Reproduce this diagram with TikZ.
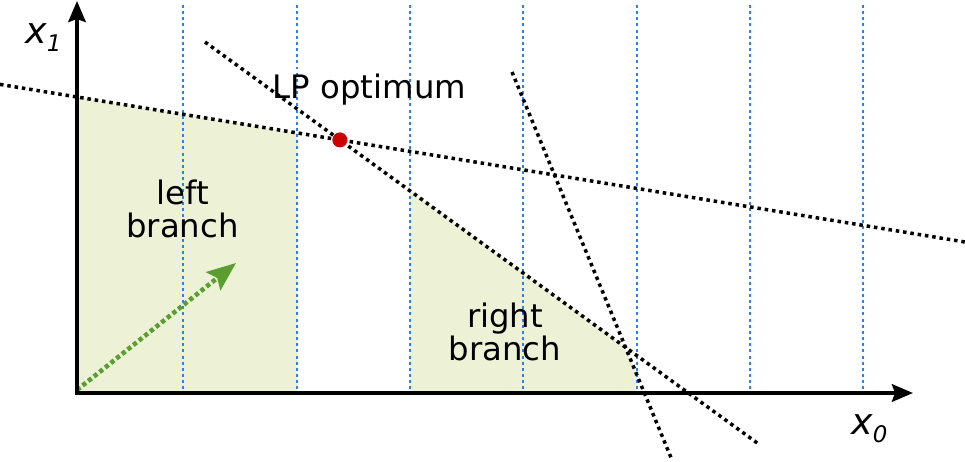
\documentclass[tikz,border=0pt]{standalone}
\usepackage{fontspec}
\setmainfont{DejaVu Sans}
\usepackage{xcolor}
\usetikzlibrary{arrows.meta,calc}

\definecolor{regionfill}{RGB}{237,242,215}
\definecolor{cutblue}{RGB}{42,127,255}
\definecolor{dirgreen}{RGB}{90,158,47}
\definecolor{optred}{RGB}{204,0,0}

\begin{document}
\begin{tikzpicture}[
    x=0.02cm, y=-0.02cm,
    axisline/.style={line width=2.1pt, {Stealth[length=0.42cm,width=0.35cm,inset=0.06cm]}-{Stealth[length=0.42cm,width=0.35cm,inset=0.06cm]}},
    cut/.style={draw=cutblue, line width=1.7pt, dash pattern=on 1.7pt off 1.8pt},
    constr/.style={draw=black, line width=2pt, dash pattern=on 2pt off 2.2pt},
    region/.style={fill=regionfill, draw=none},
    txt/.style={font=\fontsize{18.4}{18.8}\selectfont, align=center, inner sep=0pt},
    axlabel/.style={font=\fontsize{20.7}{24}\selectfont\itshape, inner sep=0pt, anchor=base west},
    dir/.style={draw=dirgreen, line width=2.6pt, dash pattern=on 2.4pt off 1.7pt, -{Stealth[length=0.58cm,width=0.46cm,inset=0.1cm]}}
]
    \useasboundingbox (0,0) rectangle (965,461);

    % axes corner and ends
    \coordinate (O) at (77,393);
    \coordinate (xend) at (913,393);
    \coordinate (yend) at (77,1);

    % constraint lines
    \coordinate (c1a) at (0,84.4);
    \coordinate (c1b) at (965,242);
    \coordinate (c2a) at (205,42);
    \coordinate (c2b) at (760,445);
    \coordinate (c3a) at (512,72);
    \coordinate (c3b) at (672,460);

    % branching cuts
    \foreach \x [count=\i] in {183,297,410,523,637,750,863} {
        \coordinate (kt\i) at (\x,5);
        \coordinate (kb\i) at (\x,393);
    }

    % feasible parts of both branches
    \fill[region] (O) -- (intersection of c1a--c1b and O--yend)
        -- (intersection of c1a--c1b and kt2--kb2) -- (kb2) -- cycle;
    \fill[region] (kb3) -- (intersection of c2a--c2b and kt3--kb3)
        -- (intersection of c2a--c2b and c3a--c3b)
        -- (intersection of c3a--c3b and kt5--kb5) -- (kb5) -- cycle;

    \foreach \i in {1,...,7}
        \draw[cut] (kt\i) -- (kb\i);

    \draw[constr] (c1a) -- (c1b);
    \draw[constr] (c2a) -- (c2b);
    \draw[constr] (c3a) -- (c3b);

    \coordinate (dirstart) at (77,390);
    \coordinate (dirend) at (236,263);
    \draw[dir] (dirstart) -- (dirend);

    \draw[axisline] (yend) -- (O) -- (xend);

    \node[circle, fill=optred, inner sep=0pt, minimum size=0.3cm] (opt)
        at (intersection of c1a--c1b and c2a--c2b) {};

    \node[txt, anchor=base] (optlabel) at (369.5,98) {LP optimum};
    \node[txt] (leftlabel) at (182.5,208.5) {left\\branch};
    \node[txt] (rightlabel) at (505,332) {right\\branch};

    \node[axlabel] (xonelabel) at (25,43) {x\raisebox{-0.16cm}{\fontsize{13}{15}\selectfont 1}};
    \node[axlabel] (xzerolabel) at (851,434) {x\raisebox{-0.16cm}{\fontsize{13}{15}\selectfont 0}};
\end{tikzpicture}
\end{document}
